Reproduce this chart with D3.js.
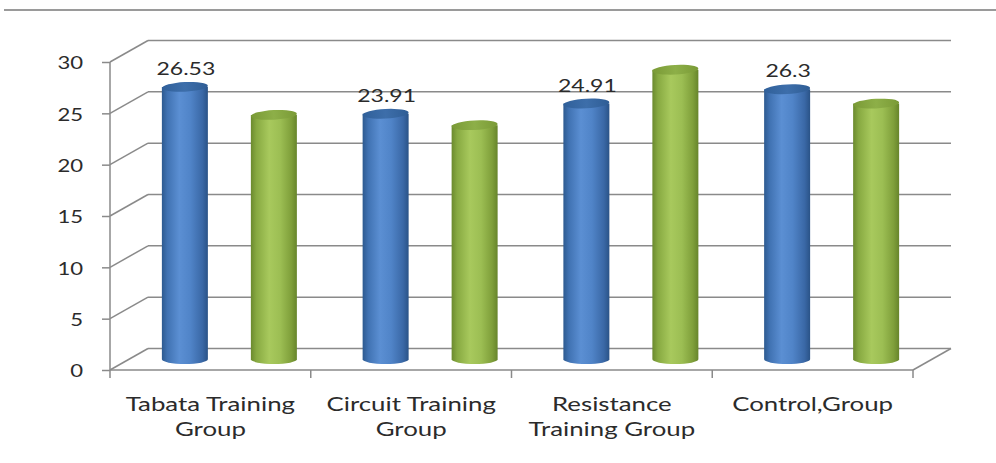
<!DOCTYPE html>
<html>
<head>
<meta charset="utf-8">
<script src="https://cdn.jsdelivr.net/npm/d3@7"></script>
<style>
  html, body { margin: 0; padding: 0; background: #fff; }
  svg { display: block; }
</style>
</head>
<body>
<svg id="chart" width="996" height="463"></svg>
<script>
// Chart data
const categories = [["Tabata Training", "Group"], ["Circuit Training", "Group"], ["Resistance", "Training Group"], ["Control,Group"]];
const seriesBlue = [26.53, 23.91, 24.91, 26.3];
const seriesGreen = [23.8, 22.8, 28.2, 24.9];
const blueLabels = ["26.53", "23.91", "24.91", "26.3"];
const yTicks = [0, 5, 10, 15, 20, 25, 30];

const svg = d3.select("#chart");
const font = "Lato, 'Open Sans', sans-serif";
const textColor = "#2b2b2b";

// Front plane of the 3D box and the depth offset of the back wall
const front = { left: 110, right: 913, bottom: 370, top: 62 };
const depth = { dx: 38, dy: -21.5 };

const x = d3.scaleBand()
  .domain(d3.range(categories.length))
  .range([front.left, front.right])
  .padding(0);
const y = d3.scaleLinear().domain([0, 30]).range([front.bottom, front.top]);

const gridColor = "#8a8a8a";

// Separator rule along the top
svg.append("line")
  .attr("x1", 4).attr("x2", 996).attr("y1", 10).attr("y2", 10)
  .attr("stroke", "#9a9a9a").attr("stroke-width", 2);

// Gradients for the cylinders
const defs = svg.append("defs");
function sideGradient(id, stops) {
  const g = defs.append("linearGradient").attr("id", id)
    .attr("x1", "0%").attr("x2", "100%").attr("y1", "0%").attr("y2", "0%");
  stops.forEach(([o, c]) => g.append("stop").attr("offset", o).attr("stop-color", c));
}
sideGradient("blueSide", [["0%", "#2d5a90"], ["12%", "#4072b2"], ["38%", "#5b8fd3"], ["62%", "#5084c8"], ["88%", "#3a68a6"], ["100%", "#2a5387"]]);
sideGradient("greenSide", [["0%", "#6b8a2e"], ["12%", "#87a941"], ["40%", "#a8c95d"], ["64%", "#9cbe53"], ["88%", "#7f9f3a"], ["100%", "#67852b"]]);
sideGradient("blueTop", [["0%", "#30609a"], ["50%", "#3d6eaa"], ["100%", "#2f5d95"]]);
sideGradient("greenTop", [["0%", "#7a9a36"], ["50%", "#8daf48"], ["100%", "#7a9a36"]]);

const grid = svg.append("g");

// Back-wall gridlines and side-wall diagonals
yTicks.forEach(t => {
  const yf = y(t);
  grid.append("line")
    .attr("x1", front.left + depth.dx).attr("x2", front.right + depth.dx)
    .attr("y1", yf + depth.dy).attr("y2", yf + depth.dy)
    .attr("stroke", gridColor).attr("stroke-width", 1.5);
  grid.append("line")
    .attr("x1", front.left).attr("x2", front.left + depth.dx)
    .attr("y1", yf).attr("y2", yf + depth.dy)
    .attr("stroke", gridColor).attr("stroke-width", 1.5);
});

// Floor: front edge and right diagonal
grid.append("line")
  .attr("x1", front.left).attr("x2", front.right)
  .attr("y1", y(0)).attr("y2", y(0))
  .attr("stroke", gridColor).attr("stroke-width", 1.5);
grid.append("line")
  .attr("x1", front.right).attr("x2", front.right + depth.dx)
  .attr("y1", y(0)).attr("y2", y(0) + depth.dy)
  .attr("stroke", gridColor).attr("stroke-width", 1.5);

// Value axis line with tick labels (text is widened horizontally)
const yAxis = d3.axisLeft(y).tickValues(yTicks).tickSize(8).tickPadding(19).tickFormat(d3.format("d"));
const yG = svg.append("g").attr("transform", `translate(${front.left},0)`).call(yAxis);
yG.select(".domain").attr("stroke", gridColor).attr("stroke-width", 1.5).attr("d", `M-0,${y(30)}V${y(0)}`);
yG.selectAll(".tick line").attr("stroke", gridColor).attr("stroke-width", 1.5);
yG.selectAll(".tick text")
  .attr("font-family", font).attr("font-size", 17).attr("fill", textColor)
  .attr("x", 0).attr("dy", "0.4em")
  .attr("transform", "translate(-27,0) scale(1.3,1)");

// Category axis tick marks on the front floor edge
const catEdges = d3.range(categories.length + 1).map(i => i < categories.length ? x(i) : front.right);
svg.append("g").selectAll("line").data(catEdges).join("line")
  .attr("x1", d => d).attr("x2", d => d)
  .attr("y1", y(0)).attr("y2", y(0) + 8)
  .attr("stroke", gridColor).attr("stroke-width", 1.5);

// Category labels
const catG = svg.append("g");
categories.forEach((lines, i) => {
  const cx = x(i) + x.bandwidth() / 2;
  const t = catG.append("text")
    .attr("transform", `translate(${cx},411) scale(1.36,1)`)
    .attr("text-anchor", "middle")
    .attr("font-family", font).attr("font-size", 19).attr("fill", textColor);
  lines.forEach((ln, j) => {
    t.append("tspan").attr("x", 0).attr("dy", j === 0 ? 0 : 25).text(ln);
  });
});

// Cylinders, placed halfway into the depth of the box
const barW = 46, ry = 4.8, gap = 44.5;
const bars = [];
categories.forEach((c, i) => {
  const mid = x(i) + x.bandwidth() / 2 + depth.dx / 2;
  bars.push({ cx: mid - gap, v: seriesBlue[i], side: "blueSide", top: "blueTop", label: blueLabels[i] });
  bars.push({ cx: mid + gap, v: seriesGreen[i], side: "greenSide", top: "greenTop", label: null });
});

const barG = svg.append("g");
bars.forEach(b => {
  const yb = y(0) + depth.dy / 2;
  const yt = y(b.v) + depth.dy / 2;
  const g = barG.append("g");
  g.append("path")
    .attr("d", `M${b.cx - barW / 2},${yt} L${b.cx - barW / 2},${yb} A${barW / 2},${ry} 0 0 0 ${b.cx + barW / 2},${yb} L${b.cx + barW / 2},${yt} Z`)
    .attr("fill", `url(#${b.side})`);
  g.append("ellipse")
    .attr("cx", b.cx).attr("cy", yt).attr("rx", barW / 2).attr("ry", ry)
    .attr("transform", `rotate(-3 ${b.cx} ${yt})`)
    .attr("fill", `url(#${b.top})`);
  if (b.label) {
    g.append("text")
      .attr("transform", `translate(${b.cx + 1},${yt - 12}) scale(1.28,1)`)
      .attr("text-anchor", "middle")
      .attr("font-family", font).attr("font-size", 18).attr("fill", textColor)
      .text(b.label);
  }
});
</script>
</body>
</html>
